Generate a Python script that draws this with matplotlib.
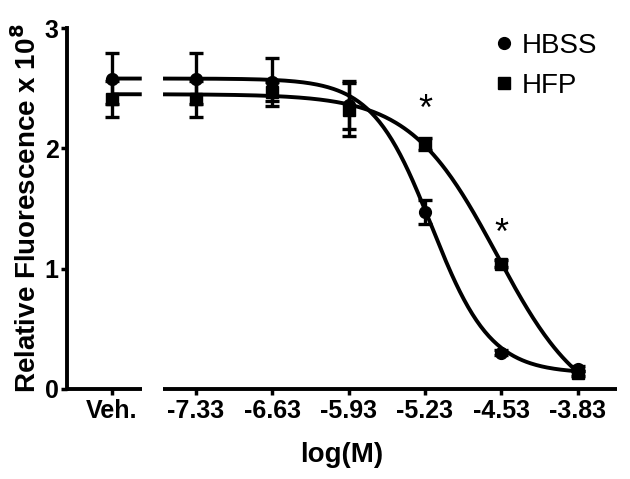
import numpy as np
import matplotlib
matplotlib.use("Agg")
import matplotlib.pyplot as plt
from matplotlib.lines import Line2D

plt.rcParams['font.family'] = ['Liberation Sans', 'DejaVu Sans']

# ---- data ----
veh_label = "Veh."
doses = [-7.33, -6.63, -5.93, -5.23, -4.53, -3.83]
dose_labels = ["-7.33", "-6.63", "-5.93", "-5.23", "-4.53", "-3.83"]

hbss_veh, hbss_veh_err = 2.58, 0.21
hfp_veh, hfp_veh_err = 2.41, 0.15

hbss_vals = [2.58, 2.55, 2.36, 1.47, 0.30, 0.17]
hbss_err = [0.21, 0.20, 0.20, 0.10, 0.02, 0.02]
hfp_vals = [2.41, 2.47, 2.32, 2.04, 1.04, 0.13]
hfp_err = [0.15, 0.08, 0.22, 0.05, 0.03, 0.02]

# 4-parameter logistic fit parameters (top, bottom, logIC50, hill)
hbss_fit = (2.58, 0.13, -5.17, 1.6)
hfp_fit = (2.45, -0.22, -4.57, 1.09)

star_x = [-5.23, -4.53]
star_y = [2.39, 1.36]

# ---- layout in data units ----
veh_x = -8.10
xmin, xmax = -8.51, -3.47
seg1_end = -7.825
seg2_start = -7.63


def logistic(x, p):
    top, bot, c, h = p
    return bot + (top - bot) / (1 + 10 ** ((x - c) * h))


fig = plt.figure(figsize=(6.3, 4.79), dpi=100)
ax = fig.add_axes([67 / 630, 1 - 389 / 479, 550 / 630, 361 / 479])
ax.set_xlim(xmin, xmax)
ax.set_ylim(0, 3)

lw_curve = 2.8
for p in (hbss_fit, hfp_fit):
    xs1 = np.linspace(veh_x, seg1_end, 20)
    ax.plot(xs1, logistic(xs1, p), color='black', lw=lw_curve, solid_capstyle='butt')
    xs2 = np.linspace(seg2_start, doses[-1], 300)
    ax.plot(xs2, logistic(xs2, p), color='black', lw=lw_curve, solid_capstyle='butt')

ekw = dict(color='black', ecolor='black', elinewidth=2.4, capsize=5, capthick=2.4,
           linestyle='none', clip_on=False, zorder=5)
ax.errorbar([veh_x] + doses, [hbss_veh] + hbss_vals, yerr=[hbss_veh_err] + hbss_err,
            marker='o', markersize=8.5, **ekw)
ax.errorbar([veh_x] + doses, [hfp_veh] + hfp_vals, yerr=[hfp_veh_err] + hfp_err,
            marker='s', markersize=8.5, **ekw)

for sx, sy in zip(star_x, star_y):
    ax.annotate("*", xy=(sx, sy), xytext=(0, -9), textcoords='offset pixels',
                ha='center', va='center', fontsize=26, color='black')

# axes styling
for s in ['top', 'right', 'bottom']:
    ax.spines[s].set_visible(False)
ax.spines['left'].set_linewidth(2.8)
ax.spines['left'].set_capstyle('projecting')

axis_lw = 2.8
ax.plot([xmin, seg1_end], [0, 0], color='black', lw=axis_lw, clip_on=False,
        solid_capstyle='butt', zorder=6)
ax.plot([seg2_start, xmax], [0, 0], color='black', lw=axis_lw, clip_on=False,
        solid_capstyle='butt', zorder=6)

ax.set_xticks([veh_x] + doses)
ax.set_xticklabels([veh_label] + dose_labels, fontsize=18, fontweight='bold')
ax.set_yticks([0, 1, 2, 3])
ax.set_yticklabels(['0', '1', '2', '3'], fontsize=18, fontweight='bold')
ax.tick_params(axis='x', direction='out', length=4, width=2.5, pad=3)
ax.tick_params(axis='y', direction='out', length=4, width=2.5, pad=2)

ax.set_xlabel("log(M)", fontsize=20, fontweight='bold', labelpad=14)
ax.set_ylabel(r"Relative Fluorescence x 10$^{\mathbf{8}}$", fontsize=20,
              fontweight='bold', labelpad=2)

handles = [Line2D([], [], color='black', marker='o', linestyle='none', markersize=8.5),
           Line2D([], [], color='black', marker='s', linestyle='none', markersize=8.5)]
ax.legend(handles, ["HBSS", "HFP"], loc='upper left', bbox_to_anchor=(0.729, 1.056),
          frameon=False, fontsize=20, handletextpad=0.25, labelspacing=0.5,
          handlelength=0.8)

fig.savefig("out.png", dpi=100)
